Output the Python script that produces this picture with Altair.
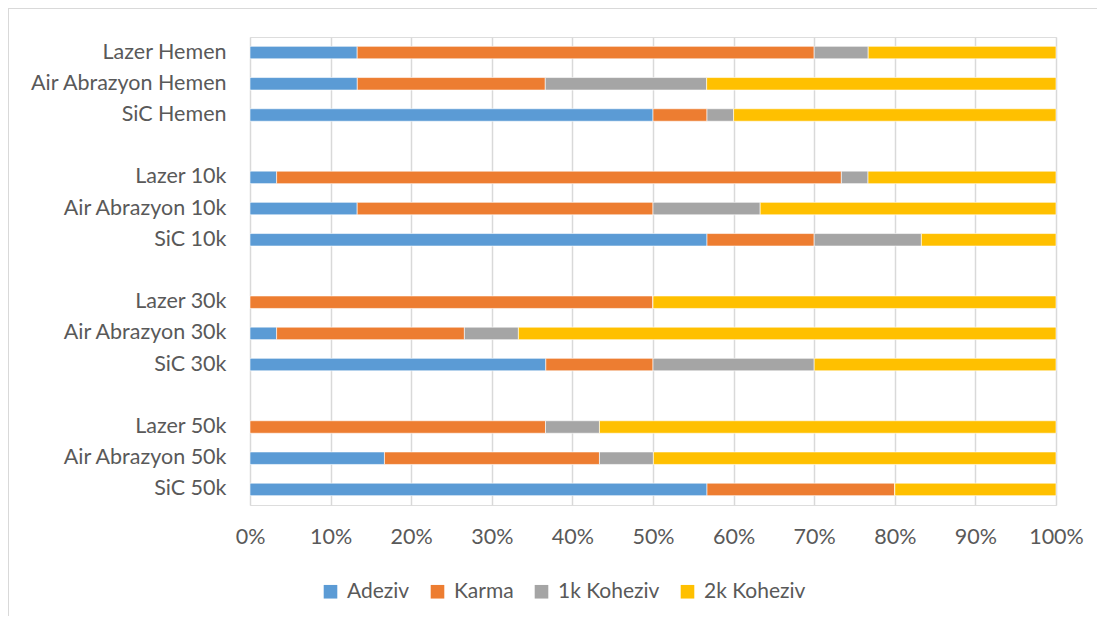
import altair as alt
import pandas as pd

categories = ["Lazer Hemen", "Air Abrazyon Hemen", "SiC Hemen",
              "Lazer 10k", "Air Abrazyon 10k", "SiC 10k",
              "Lazer 30k", "Air Abrazyon 30k", "SiC 30k",
              "Lazer 50k", "Air Abrazyon 50k", "SiC 50k"]
spacers = [" ", "  ", "   "]
series = ["Adeziv", "Karma", "1k Koheziv", "2k Koheziv"]
colors = ["#5B9BD5", "#ED7D31", "#A5A5A5", "#FFC000"]

adeziv = [13.3, 13.3, 50.0, 3.3, 13.3, 56.7, 0.0, 3.3, 36.7, 0.0, 16.7, 56.7]
karma = [56.7, 23.3, 6.7, 70.0, 36.7, 13.3, 50.0, 23.3, 13.3, 36.7, 26.7, 23.3]
koheziv1 = [6.7, 20.0, 3.3, 3.3, 13.3, 13.3, 0.0, 6.7, 20.0, 6.7, 6.7, 0.0]
koheziv2 = [23.3, 43.3, 40.0, 23.3, 36.7, 16.7, 50.0, 66.7, 30.0, 56.7, 50.0, 20.0]

x_ticks = [0, 0.1, 0.2, 0.3, 0.4, 0.5, 0.6, 0.7, 0.8, 0.9, 1.0]

rows = []
for name, vals in zip(series, [adeziv, karma, koheziv1, koheziv2]):
    for cat, v in zip(categories, vals):
        rows.append({"cat": cat, "series": name, "value": v, "order": series.index(name)})
df = pd.DataFrame(rows)

# y domain with blank spacer rows between groups
domain = []
for i in range(4):
    domain += categories[i * 3:(i + 1) * 3]
    if i < 3:
        domain.append(spacers[i])

FONT = "Lato"
TXT = "#595959"
FS = 21.5

bars = alt.Chart(df).mark_bar(stroke="white", strokeWidth=0.6).encode(
    y=alt.Y("cat:N", sort=domain,
            scale=alt.Scale(domain=domain, paddingInner=0.6, paddingOuter=0.3),
            axis=alt.Axis(title=None, ticks=False, domain=False, grid=False,
                          labelPadding=24, labelFontSize=FS, labelColor=TXT,
                          labelFont=FONT, labelLimit=400)),
    x=alt.X("value:Q", stack="normalize",
            scale=alt.Scale(domain=[0, 1], nice=False),
            axis=alt.Axis(title=None, format=".0%", values=x_ticks, ticks=False,
                          domain=False, gridColor="#D9D9D9", gridWidth=1.5,
                          labelFlush=False, labelOverlap=False,
                          labelPadding=21, labelFontSize=FS, labelColor=TXT,
                          labelFont=FONT)),
    color=alt.Color("series:N", sort=series,
                    scale=alt.Scale(domain=series, range=colors),
                    legend=alt.Legend(title=None, orient="none", direction="horizontal",
                                      legendX=70, legendY=544, symbolType="square",
                                      symbolSize=185, symbolStrokeWidth=0,
                                      labelFontSize=21, labelColor=TXT, labelFont=FONT,
                                      labelOffset=6, columnPadding=17)),
    order=alt.Order("order:Q", sort="ascending"),
)

# faint chart-area frame (top and left edges, as in the cropped reference)
frame_top = alt.Chart(df).mark_rule(color="#D9D9D9", strokeWidth=2).encode(
    x=alt.value(-242), x2=alt.value(860), y=alt.value(-29))
frame_left = alt.Chart(df).mark_rule(color="#D9D9D9", strokeWidth=2).encode(
    x=alt.value(-242), y=alt.value(-29), y2=alt.value(600))

chart = alt.layer(frame_top, frame_left, bars).properties(
    width=806, height=468,
    autosize=alt.AutoSizeParams(type="none"),
    padding={"left": 242, "top": 29, "right": 41, "bottom": 111},
).configure_view(stroke=None).configure(background="white")

chart.save("out.html", embed_options={"renderer": "svg", "actions": False})
